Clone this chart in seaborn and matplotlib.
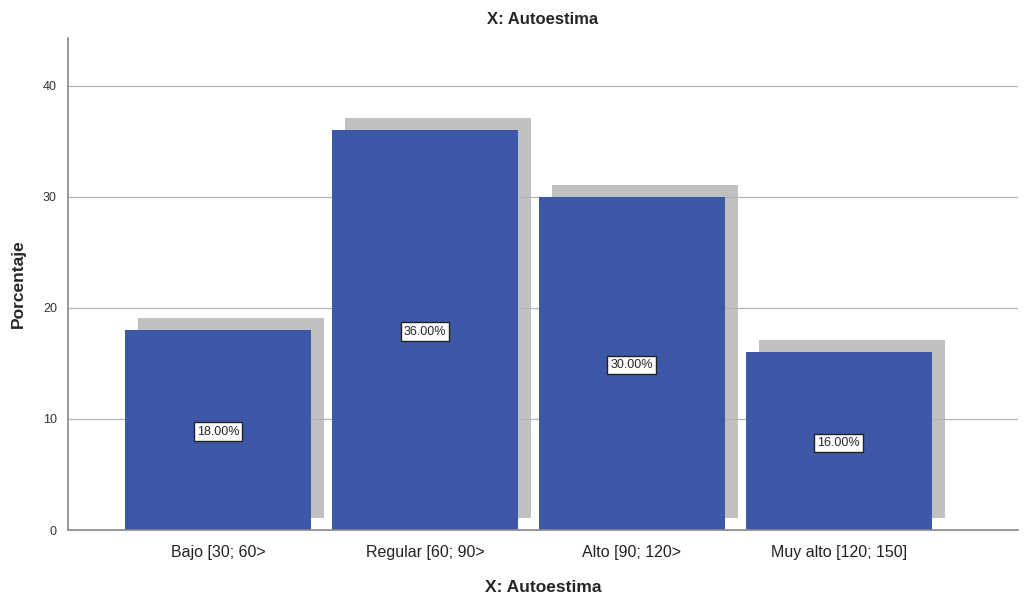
import numpy as np
import pandas as pd
import matplotlib
matplotlib.use("Agg")
import matplotlib.pyplot as plt
import seaborn as sns

# Data
categorias = ['Bajo [30; 60>', 'Regular [60; 90>', 'Alto [90; 120>', 'Muy alto [120; 150]']
porcentajes = [18.0, 36.0, 30.0, 16.0]
etiquetas = ['18.00%', '36.00%', '30.00%', '16.00%']

df = pd.DataFrame({'Categoria': categorias, 'Porcentaje': porcentajes})

sns.set_style('white')
plt.rcParams['font.family'] = ['Liberation Sans', 'DejaVu Sans']

fig = plt.figure(figsize=(10.28, 5.98), dpi=100)
ax = fig.add_axes([0.0661, 0.1137, 0.9239, 0.8228])

# shadow behind bars (SPSS style drop shadow)
x = np.arange(len(categorias))
ax.bar(x + 0.063, df['Porcentaje'], width=0.9, bottom=1.1,
       color='#c0c0c0', zorder=1, linewidth=0)

ax.yaxis.grid(True, color='#b4b4b4', linewidth=0.9, zorder=2)
ax.set_axisbelow(False)

sns.barplot(data=df, x='Categoria', y='Porcentaje', color='#3e58a8',
            saturation=1, width=0.9, ax=ax, zorder=3, linewidth=0)

for i, (v, lab) in enumerate(zip(porcentajes, etiquetas)):
    ax.text(i, v / 2, lab, ha='center', va='center_baseline', fontsize=9, zorder=5,
            bbox=dict(boxstyle='square,pad=0.25', facecolor='white',
                      edgecolor='#222222', linewidth=1))

ax.set_xlim(-0.725, 3.865)
ax.set_ylim(0, 44.3)
ax.set_yticks([0, 10, 20, 30, 40])
ax.tick_params(axis='y', labelsize=9, colors='#333333', length=0, pad=8)
ax.tick_params(axis='x', labelsize=11.5, colors='#222222', length=0, pad=11)
for lab in ax.get_yticklabels():
    lab.set_color('#333333')

for s in ['top', 'right']:
    ax.spines[s].set_visible(False)
for s in ['left', 'bottom']:
    ax.spines[s].set_color('#888888')
    ax.spines[s].set_linewidth(1.2)
    ax.spines[s].set_zorder(4)

ax.set_title('X: Autoestima', fontsize=12, fontweight='bold', pad=10)
ax.set_xlabel('X: Autoestima', fontsize=12.5, fontweight='bold', labelpad=14)
ax.set_ylabel('Porcentaje', fontsize=12.5, fontweight='bold', labelpad=12)

fig.savefig('out.png', dpi=100)
